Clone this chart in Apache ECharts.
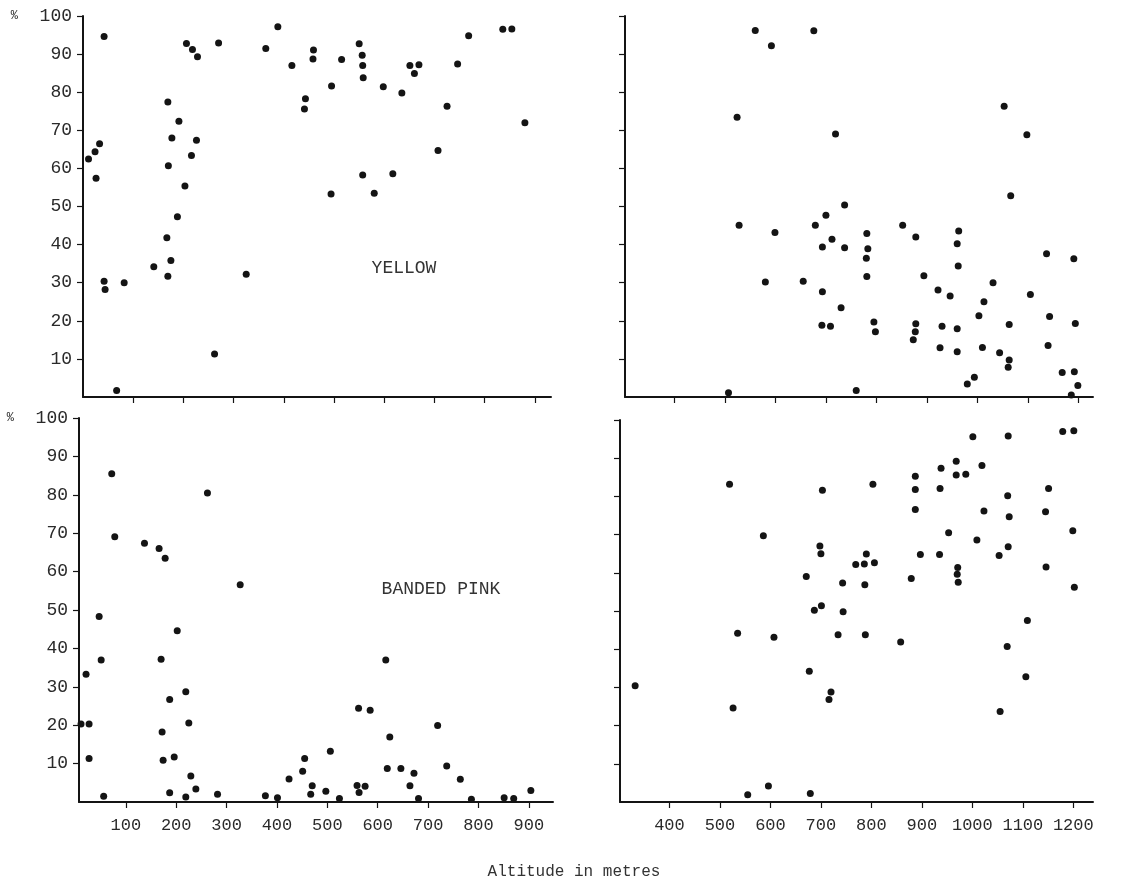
<!DOCTYPE html>
<html>
<head>
<meta charset="utf-8">
<script src="https://cdn.jsdelivr.net/npm/echarts@6/dist/echarts.min.js"></script>
<style>
  html, body { margin: 0; padding: 0; background: #fff; }
  #chart { width: 1133px; height: 891px; }
</style>
</head>
<body>
<div id="chart"></div>
<script>
// ---- Data (altitude in metres, percentage) ----
const yellowLowAlt = [11,24,33,26,42,42,44,67,82,141,167,169,175,169,177,170,191,188,203,216,226,206,218,228,270,262,325,364,388,416,459,458,443,441,495,515,550,556,557,558,494,557,580,598,617,635,651,669,660,707,725,746,768,836,854,880];
const yellowLowPct = [62.5,64.4,66.5,57.4,94.6,30.4,28.2,1.7,30,34.2,41.8,31.7,35.8,77.4,68,60.7,72.4,47.3,55.4,63.4,67.4,92.8,91.2,89.3,92.9,11.3,32.2,91.5,97.2,87,91.1,88.7,78.3,75.6,81.6,88.6,92.7,89.7,87,83.8,53.3,58.3,53.5,81.4,58.6,79.8,87,87.2,84.9,64.7,76.3,87.4,94.8,96.5,96.6,72];

const yellowHighAlt = [560,676,592,524,719,737,700,528,679,599,712,693,737,580,655,693,730,692,709,507,760,1053,1098,1066,852,781,878,963,783,960,780,962,781,894,1137,1191,922,946,1031,1105,1013,1003,795,798,878,877,873,930,960,1063,1143,1194,926,960,1010,1044,1140,1063,1061,1168,1192,980,994,1199,1186];
const yellowHighPct = [96.2,96.1,92.2,73.4,69,50.4,47.7,45.1,45.1,43.2,41.4,39.4,39.2,30.2,30.4,27.6,23.4,18.8,18.6,1.1,1.7,76.3,68.8,52.8,45.1,42.9,42,43.6,38.9,40.2,36.4,34.4,31.6,31.8,37.6,36.3,28.1,26.5,30,26.9,25,21.3,19.7,17.1,19.2,17.1,15,18.6,17.9,19,21.1,19.3,12.9,11.9,13,11.6,13.5,9.7,7.8,6.4,6.6,3.4,5.2,3,0.5];

const pinkLowAlt = [11,21,27,27,47,51,56,72,78,137,166,178,170,172,174,187,187,196,202,219,225,219,229,239,262,282,327,377,401,424,451,455,470,467,497,506,524,559,563,575,562,585,616,624,619,646,664,672,681,719,737,764,786,851,870,904];
const pinkLowPct = [20.3,33.3,20.3,11.3,48.3,37,1.5,85.5,69.1,67.4,66,63.5,37.2,18.2,10.9,26.7,2.4,11.7,44.6,28.7,20.6,1.3,6.8,3.4,80.5,2,56.6,1.6,1.1,6,8,11.3,4.2,2,2.8,13.2,0.9,4.3,2.5,4.1,24.4,23.9,37,16.9,8.7,8.7,4.2,7.5,0.9,19.9,9.4,5.9,0.7,1.1,0.9,3];

const pinkHighAlt = [332,519,526,535,555,596,586,607,671,677,679,687,701,698,700,703,720,716,734,743,744,769,786,790,787,788,806,803,858,879,887,887,887,897,935,936,938,953,968,968,987,971,970,972,1001,1019,1009,1023,1053,1055,1069,1071,1070,1073,1071,1106,1109,1145,1151,1146,1179,1201,1199,1202];
const pinkHighPct = [30.4,83.2,24.6,44.2,1.9,4.2,69.7,43.1,59,34.2,2.2,50.2,51.4,67,65,81.6,28.8,26.8,43.8,57.3,49.8,62.2,62.3,64.9,56.9,43.8,62.6,83.2,41.9,58.5,85.3,81.8,76.6,64.8,64.8,82.1,87.4,70.5,89.2,85.6,85.8,61.4,59.6,57.5,95.6,88.1,68.6,76.2,64.5,23.7,40.7,66.8,80.2,74.7,95.8,32.8,47.5,76,82.1,61.5,97,97.2,71,56.2];

// ---- Tick labels ----
const lowAltTicks = [100,200,300,400,500,600,700,800,900];
const highAltTicks = [400,500,600,700,800,900,1000,1100,1200];
const pctTicks = [10,20,30,40,50,60,70,80,90,100];
const panelTitles = ['YELLOW', 'BANDED PINK'];
const xAxisTitle = 'Altitude in metres';

// ---- Build chart ----
const INK = '#141414';
const TEXT = '#2a2a2a';
const FONT = 'Liberation Mono';

function zip(xs, ys) { return xs.map((x, i) => [x, ys[i]]); }

const grids = [
  { left: 83,  top: 16,  width: 468, height: 381 },
  { left: 625, top: 16,  width: 468, height: 381 },
  { left: 79,  top: 418, width: 474, height: 384 },
  { left: 620, top: 420, width: 473, height: 382 }
].map(g => Object.assign({ containLabel: false, outerBoundsMode: 'none' }, g));

const xRanges = [[0, 932], [302, 1229], [7, 948], [302, 1239]];
const xTicks = [lowAltTicks, highAltTicks, lowAltTicks, highAltTicks];
const showXLabels = [false, false, true, true];
const showYLabels = [true, false, true, false];

const xAxes = grids.map((g, i) => ({
  type: 'value', gridIndex: i, min: xRanges[i][0], max: xRanges[i][1],
  splitLine: { show: false },
  axisLine: { show: true, lineStyle: { color: INK, width: 2 } },
  axisTick: { show: true, inside: false, length: 6, customValues: xTicks[i], lineStyle: { color: INK, width: 1.2 } },
  axisLabel: {
    show: showXLabels[i], customValues: xTicks[i], margin: 15, color: TEXT,
    fontFamily: FONT, fontSize: 17, hideOverlap: false, showMinLabel: true, showMaxLabel: true,
    formatter: v => String(v)
  }
}));

const yAxes = grids.map((g, i) => ({
  type: 'value', gridIndex: i, min: 0, max: 100,
  splitLine: { show: false },
  axisLine: { show: true, lineStyle: { color: INK, width: 2 } },
  axisTick: { show: true, inside: false, length: 6, customValues: pctTicks, lineStyle: { color: INK, width: 1.2 } },
  axisLabel: {
    show: showYLabels[i], customValues: pctTicks, margin: 11, color: TEXT, fontFamily: FONT, fontSize: 18,
    formatter: v => v === 100 ? '{p|%}  100' : String(v),
    rich: { p: { fontSize: 12, fontFamily: FONT, color: TEXT } }
  }
}));

const datasets = [
  zip(yellowLowAlt, yellowLowPct),
  zip(yellowHighAlt, yellowHighPct),
  zip(pinkLowAlt, pinkLowPct),
  zip(pinkHighAlt, pinkHighPct)
];

const series = datasets.map((d, i) => ({
  type: 'scatter', xAxisIndex: i, yAxisIndex: i, data: d,
  symbol: 'circle', symbolSize: 7,
  itemStyle: { color: INK, opacity: 1 },
  clip: false,
  silent: true
}));

const chart = echarts.init(document.getElementById('chart'), null, { renderer: 'canvas' });
chart.setOption({
  backgroundColor: '#ffffff',
  animation: false,
  grid: grids,
  xAxis: xAxes,
  yAxis: yAxes,
  series: series,
  title: [
    { text: panelTitles[0], left: 399, top: 254, textAlign: 'center',
      textStyle: { fontFamily: FONT, fontSize: 18, fontWeight: 'normal', color: '#333' } },
    { text: panelTitles[1], left: 436, top: 575, textAlign: 'center',
      textStyle: { fontFamily: FONT, fontSize: 18, fontWeight: 'normal', color: '#333' } },
    { text: xAxisTitle, left: 569, top: 859, textAlign: 'center',
      textStyle: { fontFamily: FONT, fontSize: 16, fontWeight: 'normal', color: '#333' } }
  ]
});
</script>
</body>
</html>
